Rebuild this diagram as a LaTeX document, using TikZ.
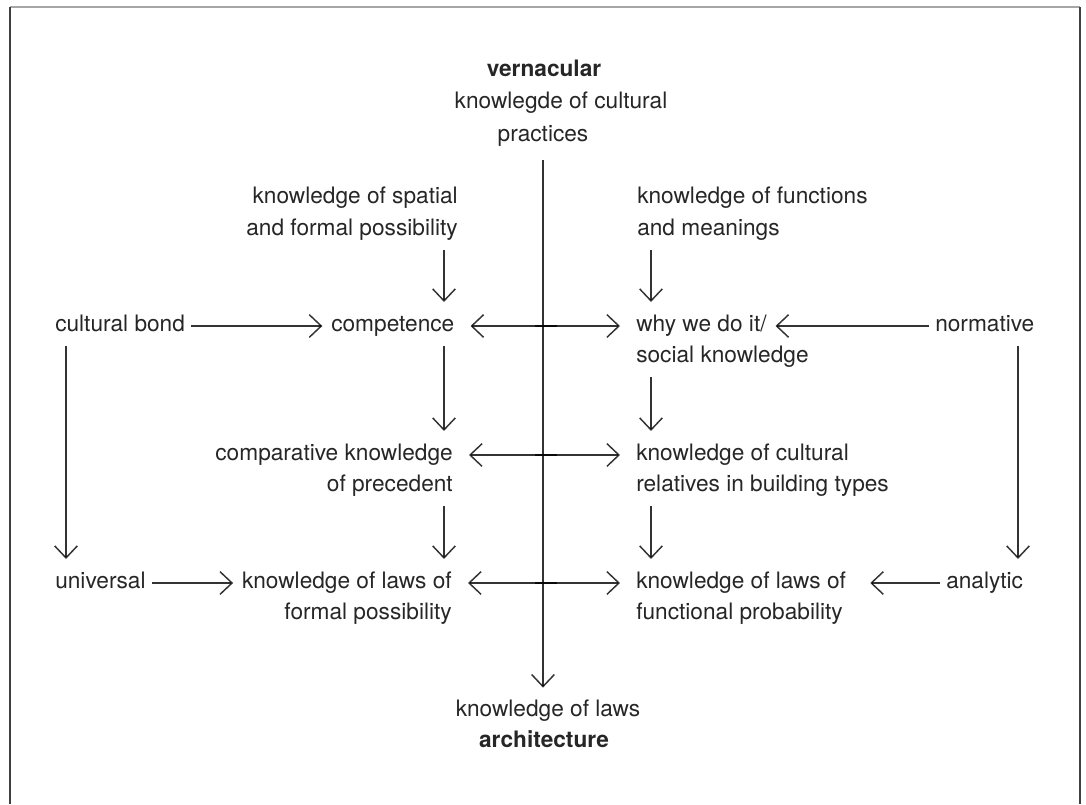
\documentclass[tikz,border=0pt]{standalone}
\usepackage{fontspec}
\setmainfont{TeX Gyre Heros}
\usetikzlibrary{arrows.meta}

\begin{document}
\begin{tikzpicture}[x=0.75pt,y=-0.75pt,
	txt/.style={inner sep=0pt,text height=12.5pt,text depth=4.2pt,
		text=black!85,font=\fontsize{17}{23}\selectfont},
	hd/.style={txt,font=\fontsize{17}{23}\selectfont\bfseries},
	arr/.style={-{Straight Barb[length=9pt,width=17pt]},line width=1.1pt,
		draw=black,draw opacity=0.8},
	down/.style={arr,shorten <=6.5pt,shorten >=9.5pt},
	across/.style={arr,shorten <=4.5pt,shorten >=6.5pt},
	pair/.style={arr,shorten >=12pt}]

	\useasboundingbox (0,0) rectangle (1086,804);
	% frame, open at the bottom
	\draw[gray!70,line width=1.5pt] (10,7) -- (1080,7);
	\draw[black!75,line width=1.5pt] (10,804) -- (10,7);
	\draw[black!75,line width=1.5pt] (1080,7) -- (1080,804);

	% columns and rows
	\coordinate (cl) at (444,0);
	\coordinate (cr) at (651,0);
	\coordinate (cx) at (66,0);
	\coordinate (cn) at (1018,0);
	\coordinate (m1) at (544,326);
	\coordinate (m2) at (544,455);
	\coordinate (m3) at (544,583);

	% axis ends
	\node[hd] (vern) at (544,71) {vernacular};
	\node[txt] (kcp) at (561,103) {knowlegde of cultural};
	\node[txt] (prac) at (543,136) {practices};
	\node[txt] (arch1) at (548,711) {knowledge of laws};
	\node[hd] (arch2) at (544,742) {architecture};

	% top sources
	\node[txt,anchor=east] (spat1) at (458,198) {knowledge of spatial};
	\node[txt,anchor=east] (spat2) at (458,230) {and formal possibility};
	\node[txt,anchor=west] (func1) at (637,198) {knowledge of functions};
	\node[txt,anchor=west] (func2) at (637,230) {and meanings};

	% first row
	\node[txt,anchor=west] (cb) at (55,326) {cultural bond};
	\node[txt,anchor=west] (comp) at (331,326) {competence};
	\node[txt,anchor=west] (why1) at (636,326) {why we do it/};
	\node[txt,anchor=west] (why2) at (636,357) {social knowledge};
	\node[txt,anchor=west] (norm) at (935,326) {normative};

	% second row
	\node[txt,anchor=east] (cmp1) at (453,455) {comparative knowledge};
	\node[txt,anchor=east] (cmp2) at (453,486) {of precedent};
	\node[txt,anchor=west] (rel1) at (636,455) {knowledge of cultural};
	\node[txt,anchor=west] (rel2) at (636,486) {relatives in building types};

	% third row
	\node[txt,anchor=west] (univ) at (55,583) {universal};
	\node[txt,anchor=east] (lawf1) at (452,583) {knowledge of laws of};
	\node[txt,anchor=east] (lawf2) at (452,614) {formal possibility};
	\node[txt,anchor=west] (lawp1) at (636,583) {knowledge of laws of};
	\node[txt,anchor=west] (lawp2) at (636,614) {functional probability};
	\node[txt,anchor=west] (anal) at (946,583) {analytic};

	\draw[arr,shorten <=9.5pt,shorten >=9pt] (prac.south) -- (prac.south |- arch1.north);

	\draw[down] (spat2.south -| cl) -- (comp.north -| cl);
	\draw[down] (func2.south -| cr) -- (why1.north -| cr);
	\draw[down] (comp.south -| cl) -- (cmp1.north -| cl);
	\draw[down] (why2.south -| cr) -- (rel1.north -| cr);
	\draw[down] (cmp2.south -| cl) -- (lawf1.north -| cl);
	\draw[down] (rel2.south -| cr) -- (lawp1.north -| cr);
	\draw[down] (cb.south -| cx) -- (univ.north -| cx);
	\draw[down] (norm.south -| cn) -- (anal.north -| cn);

	\draw[across] (cb) -- (comp);
	\draw[across] (norm) -- (why1);
	\draw[across] (univ) -- (lawf1);
	\draw[across,shorten >=18pt] (anal) -- (lawp1);

	\draw[pair] ([xshift=9.75pt]m1) -- (comp);
	\draw[pair] ([xshift=-6.75pt]m1) -- (why1);
	\draw[pair] ([xshift=9.75pt]m2) -- (cmp1);
	\draw[pair] ([xshift=-6.75pt]m2) -- (rel1);
	\draw[pair] ([xshift=9.75pt]m3) -- (lawf1);
	\draw[pair] ([xshift=-6.75pt]m3) -- (lawp1);
\end{tikzpicture}
\end{document}
